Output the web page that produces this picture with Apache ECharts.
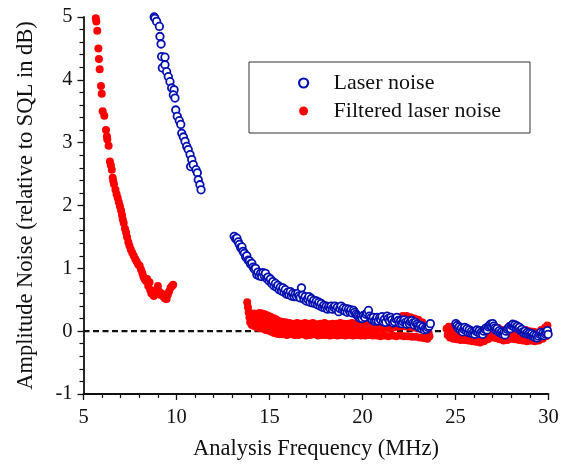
<!DOCTYPE html>
<html>
<head>
<meta charset="utf-8">
<script src="https://cdn.jsdelivr.net/npm/echarts@6/dist/echarts.min.js"></script>
<style>html,body{margin:0;padding:0;background:#fff}#c{width:566px;height:466px}</style>
</head>
<body>
<div id="c"></div>
<script>
// ---- data (frequency MHz, noise dB) ----
var seriesNames = ['Laser noise', 'Filtered laser noise'];
var xTicks = [5, 10, 15, 20, 25, 30];
var yTicks = [-1, 0, 1, 2, 3, 4, 5];

var laserA = [[8.80,5.00],[8.84,4.98],[8.93,4.93],[9.08,4.85],[9.11,4.69],[9.17,4.57],[9.20,4.37],[9.38,4.36],[9.24,4.19],[9.38,4.24],[9.47,4.13],[9.56,4.05],[9.65,3.97],[9.74,3.87],[9.87,3.84],[9.83,3.76],[9.92,3.71],[9.96,3.52],[10.04,3.42],[10.15,3.35],[10.23,3.29],[10.28,3.15],[10.37,3.09],[10.46,3.02],[10.55,2.94],[10.63,2.89],[10.73,2.81],[10.82,2.73],[10.76,2.62],[10.90,2.65],[11.05,2.57],[11.12,2.52],[11.17,2.41],[11.26,2.33],[11.32,2.25]];

var laserB = [[13.10,1.51],[13.18,1.47],[13.25,1.48],[13.32,1.42],[13.38,1.38],[13.45,1.33],[13.52,1.34],[13.58,1.27],[13.65,1.24],[13.72,1.18],[13.78,1.20],[13.85,1.13],[13.92,1.12],[13.98,1.07],[14.05,1.08],[14.12,1.02],[14.18,0.99],[14.25,1.00],[14.32,0.90],[14.38,0.94],[14.45,0.88],[14.52,0.92],[14.58,0.87],[14.65,0.93],[14.72,0.88],[14.78,0.92],[14.85,0.84],[14.92,0.86],[14.98,0.80],[15.05,0.83],[15.12,0.76],[15.18,0.79],[15.25,0.72],[15.32,0.76],[15.38,0.70],[15.45,0.73],[15.52,0.66],[15.58,0.70],[15.65,0.64],[15.72,0.69],[15.78,0.62],[15.85,0.66],[15.92,0.59],[15.98,0.62],[16.05,0.58],[16.12,0.63],[16.18,0.56],[16.25,0.60],[16.32,0.55],[16.38,0.59],[16.45,0.55],[16.52,0.60],[16.58,0.56],[16.65,0.53],[16.72,0.69],[16.78,0.57],[16.85,0.51],[16.92,0.55],[16.98,0.48],[17.05,0.51],[17.12,0.55],[17.18,0.46],[17.25,0.52],[17.32,0.45],[17.38,0.49],[17.45,0.44],[17.52,0.48],[17.58,0.42],[17.65,0.46],[17.72,0.40],[17.78,0.44],[17.85,0.38],[17.92,0.41],[17.98,0.37],[18.05,0.40],[18.12,0.35],[18.18,0.39],[18.25,0.36],[18.32,0.40],[18.38,0.35],[18.45,0.38],[18.52,0.40],[18.58,0.35],[18.65,0.38],[18.72,0.31],[18.78,0.36],[18.85,0.40],[18.92,0.34],[18.98,0.37],[19.05,0.32],[19.12,0.36],[19.18,0.30],[19.25,0.35],[19.32,0.31],[19.38,0.34],[19.45,0.29],[19.52,0.33],[19.58,0.30],[19.65,0.27],[19.72,0.25],[19.78,0.23],[19.85,0.21],[19.92,0.23],[19.98,0.20],[20.05,0.25],[20.12,0.22],[20.18,0.27],[20.25,0.29],[20.32,0.33],[20.38,0.24],[20.45,0.21],[20.52,0.18],[20.58,0.22],[20.65,0.16],[20.72,0.18],[20.78,0.22],[20.85,0.16],[20.92,0.21],[20.98,0.18],[21.05,0.23],[21.12,0.15],[21.18,0.19],[21.25,0.14],[21.32,0.24],[21.38,0.20],[21.45,0.16],[21.52,0.22],[21.58,0.18],[21.65,0.13],[21.72,0.15],[21.78,0.20],[21.85,0.22],[21.92,0.17],[21.98,0.13],[22.05,0.16],[22.12,0.12],[22.18,0.15],[22.25,0.18],[22.32,0.14],[22.38,0.11],[22.45,0.16],[22.52,0.12],[22.58,0.15],[22.65,0.17],[22.72,0.13],[22.78,0.10],[22.85,0.14],[22.92,0.11],[22.98,0.08],[23.05,0.06],[23.12,0.09],[23.18,0.04],[23.25,0.07],[23.32,0.02],[23.38,0.05],[23.45,0.03],[23.52,0.06],[23.58,0.08],[23.65,0.12]];

var laserC = [[25.02,0.12],[25.08,0.09],[25.14,0.05],[25.20,0.07],[25.26,0.02],[25.32,0.05],[25.38,-0.01],[25.44,0.03],[25.50,0.06],[25.56,0.01],[25.62,0.04],[25.68,-0.02],[25.74,0.02],[25.80,-0.03],[25.86,0.00],[25.92,-0.04],[25.98,-0.01],[26.04,-0.05],[26.10,0.00],[26.16,0.02],[26.22,-0.02],[26.28,0.01],[26.34,-0.04],[26.40,-0.01],[26.46,-0.05],[26.52,0.00],[26.58,0.03],[26.64,0.05],[26.70,0.02],[26.76,0.07],[26.82,0.09],[26.88,0.11],[26.94,0.08],[27.00,0.12],[27.06,0.08],[27.12,0.05],[27.18,0.02],[27.24,0.04],[27.30,-0.01],[27.36,0.01],[27.42,-0.03],[27.48,-0.01],[27.54,-0.05],[27.60,-0.02],[27.66,-0.06],[27.72,0.00],[27.78,0.03],[27.84,0.05],[27.90,0.07],[27.96,0.04],[28.02,0.09],[28.08,0.11],[28.14,0.07],[28.20,0.10],[28.26,0.06],[28.32,0.08],[28.38,0.04],[28.44,0.06],[28.50,0.01],[28.56,0.03],[28.62,-0.01],[28.68,-0.03],[28.74,0.00],[28.80,-0.04],[28.86,-0.02],[28.92,-0.05],[28.98,-0.03],[29.04,-0.06],[29.10,-0.04],[29.16,-0.08],[29.22,-0.06],[29.28,-0.10],[29.34,-0.07],[29.40,-0.11],[29.46,-0.08],[29.52,-0.05],[29.58,-0.02],[29.64,-0.06],[29.70,-0.03],[29.76,-0.07],[29.82,-0.04],[29.88,-0.02],[29.94,0.01],[29.98,-0.05]];

var filteredA = [[5.66,4.98],[5.69,4.93],[5.74,4.78],[5.80,4.50],[5.83,4.33],[5.87,4.17],[5.94,3.90],[5.98,3.78],[6.03,3.50],[6.12,3.43],[6.21,3.20],[6.26,3.10],[6.28,3.05],[6.35,2.95],[6.42,2.70],[6.47,2.64],[6.52,2.57],[6.57,2.44],[6.60,2.39],[6.64,2.34],[6.72,2.25],[6.78,2.18],[6.84,2.12],[6.90,2.05],[6.96,1.99],[7.02,1.92],[7.07,1.85],[7.11,1.78],[7.16,1.72],[7.23,1.63],[7.29,1.57],[7.34,1.50],[7.41,1.42],[7.47,1.36],[7.54,1.30],[7.62,1.25],[7.70,1.20],[7.78,1.15],[7.86,1.11],[7.94,1.06],[8.02,1.04],[8.09,0.98],[8.16,0.93],[8.22,0.87],[8.28,0.83],[8.36,0.80],[8.42,0.83],[8.48,0.72],[8.55,0.78],[8.58,0.66],[8.65,0.60],[8.72,0.64],[8.78,0.56],[8.84,0.59],[8.92,0.66],[9.00,0.72],[9.06,0.63],[9.12,0.58],[9.20,0.60],[9.29,0.55],[9.38,0.52],[9.47,0.51],[9.53,0.58],[9.60,0.63],[9.68,0.69],[9.76,0.72],[9.82,0.74]];

var filteredB = [[13.80,0.46],[13.84,0.38],[13.88,0.30],[13.92,0.22],[13.96,0.14],[14.00,0.26],[14.05,0.10],[14.10,0.20],[14.15,0.28],[14.20,0.08],[14.25,0.18],[14.30,0.27],[14.35,0.06],[14.40,0.17],[14.45,0.29],[14.50,0.05],[14.55,0.16],[14.60,0.28],[14.65,0.04],[14.70,0.14],[14.75,0.27],[14.80,0.02],[14.85,0.13],[14.90,0.25],[14.95,0.01],[15.00,0.12],[15.05,0.23],[15.10,-0.01],[15.15,0.10],[15.20,0.21],[15.25,-0.03],[15.30,0.08],[15.35,0.19],[15.40,-0.04],[15.45,0.06],[15.50,0.16],[15.55,-0.05],[15.60,0.05],[15.65,0.15],[15.72,-0.05],[15.79,0.04],[15.86,0.14],[15.93,-0.06],[16.00,0.03],[16.07,0.13],[16.14,-0.05],[16.21,0.04],[16.28,0.12],[16.35,-0.06],[16.42,0.03],[16.49,0.13],[16.56,-0.06],[16.63,0.04],[16.70,0.12],[16.77,-0.05],[16.84,0.03],[16.91,0.13],[16.98,-0.07],[17.05,0.02],[17.12,0.12],[17.19,-0.06],[17.26,0.04],[17.33,0.13],[17.40,-0.05],[17.47,0.03],[17.54,0.11],[17.61,-0.07],[17.68,0.02],[17.75,0.12],[17.82,-0.06],[17.89,0.03],[17.96,0.13],[18.03,-0.06],[18.10,0.02],[18.17,0.11],[18.24,-0.07],[18.31,0.03],[18.38,0.12],[18.45,-0.06],[18.52,0.02],[18.59,0.12],[18.66,-0.07],[18.73,0.03],[18.80,0.13],[18.87,-0.06],[18.94,0.03],[19.01,0.12],[19.08,-0.07],[19.15,0.02],[19.22,0.12],[19.29,-0.06],[19.36,0.03],[19.43,0.13],[19.50,-0.07],[19.57,0.02],[19.64,0.12],[19.71,-0.06],[19.78,0.03],[19.85,0.12],[19.92,-0.07],[19.99,0.03],[20.06,0.13],[20.13,-0.07],[20.20,0.03],[20.27,0.14],[20.34,-0.06],[20.41,0.04],[20.48,0.14],[20.55,-0.07],[20.62,0.03],[20.69,0.15],[20.76,-0.07],[20.83,0.04],[20.90,0.15],[20.97,-0.08],[21.04,0.04],[21.11,0.16],[21.18,-0.07],[21.25,0.05],[21.32,0.17],[21.39,-0.08],[21.46,0.05],[21.53,0.18],[21.60,-0.07],[21.67,0.06],[21.74,0.20],[21.81,-0.08],[21.88,0.07],[21.95,0.22],[22.02,-0.07],[22.09,0.08],[22.16,0.24],[22.23,-0.08],[22.30,0.08],[22.37,0.24],[22.44,-0.08],[22.51,0.07],[22.58,0.22],[22.65,-0.09],[22.72,0.06],[22.79,0.20],[22.86,-0.09],[22.93,0.05],[23.00,0.18],[23.07,-0.10],[23.14,0.04],[23.21,0.14],[23.28,-0.11],[23.35,0.02],[23.42,0.09],[23.49,-0.12],[23.55,-0.02],[23.60,-0.08]];

var filteredC = [[24.52,0.04],[24.58,-0.06],[24.64,0.07],[24.70,-0.10],[24.76,0.00],[24.82,0.06],[24.88,-0.12],[24.94,-0.02],[25.00,0.05],[25.06,-0.13],[25.13,-0.03],[25.20,0.04],[25.27,-0.14],[25.34,-0.04],[25.41,0.03],[25.48,-0.14],[25.55,-0.05],[25.62,0.02],[25.69,-0.15],[25.76,-0.05],[25.83,0.01],[25.90,-0.16],[25.97,-0.06],[26.04,0.00],[26.11,-0.17],[26.18,-0.07],[26.25,0.00],[26.32,-0.18],[26.39,-0.08],[26.46,0.01],[26.53,-0.16],[26.60,-0.06],[26.67,0.04],[26.74,-0.13],[26.81,-0.03],[26.88,0.07],[26.95,-0.10],[27.02,-0.01],[27.09,0.08],[27.16,-0.11],[27.23,-0.03],[27.30,0.05],[27.37,-0.13],[27.44,-0.05],[27.51,0.02],[27.58,-0.15],[27.65,-0.07],[27.72,0.01],[27.79,-0.14],[27.86,-0.05],[27.93,0.04],[28.00,-0.12],[28.07,-0.03],[28.14,0.06],[28.21,-0.13],[28.28,-0.04],[28.35,0.05],[28.42,-0.14],[28.49,-0.05],[28.56,0.03],[28.63,-0.15],[28.70,-0.06],[28.77,0.02],[28.84,-0.16],[28.91,-0.07],[28.98,0.00],[29.05,-0.15],[29.12,-0.07],[29.19,-0.01],[29.26,-0.16],[29.33,-0.08],[29.40,-0.02],[29.47,-0.15],[29.54,-0.06],[29.61,0.02],[29.68,-0.12],[29.75,-0.04],[29.82,0.06],[29.88,-0.08],[29.94,0.09],[29.98,-0.02]];

var zeroLine = [[5, 0], [30, 0]];

// ---- chart ----
var BLUE = '#0610b0', RED = '#ff0000';
var FONT = '"Liberation Serif", "DejaVu Serif", serif';
var chart = echarts.init(document.getElementById('c'), null, {renderer: 'canvas'});
chart.setOption({
  animation: false,
  backgroundColor: '#fff',
  grid: {left: 83.5, right: 17.5, top: 17, bottom: 71, containLabel: false},
  legend: {
    data: [
      {name: seriesNames[0], icon: 'circle', itemStyle: {color: '#fff', borderColor: BLUE, borderWidth: 2.2}},
      {name: seriesNames[1], icon: 'circle', itemStyle: {color: RED, borderWidth: 0}}
    ],
    orient: 'vertical',
    left: 249, top: 62,
    padding: [10, 29, 11, 49],
    itemWidth: 50, itemHeight: 9, itemGap: 6,
    borderColor: '#333', borderWidth: 1,
    backgroundColor: '#fff',
    selectedMode: false,
    textStyle: {fontFamily: FONT, fontSize: 22, color: '#111', lineHeight: 22}
  },
  xAxis: {
    type: 'value', min: xTicks[0], max: xTicks[xTicks.length - 1], interval: 5,
    name: 'Analysis Frequency (MHz)', nameLocation: 'middle', nameGap: 44,
    nameTextStyle: {fontFamily: FONT, fontSize: 22.5, color: '#111'},
    axisLine: {show: true, onZero: false, lineStyle: {color: '#111', width: 1.8}},
    axisTick: {show: true, inside: false, length: 6, lineStyle: {color: '#111', width: 1.3}},
    minorTick: {show: true, splitNumber: 5, length: 4, lineStyle: {color: '#111', width: 1.2}},
    splitLine: {show: false},
    axisLabel: {fontFamily: FONT, fontSize: 20.5, color: '#111', margin: 13}
  },
  yAxis: {
    type: 'value', min: yTicks[0], max: yTicks[yTicks.length - 1], interval: 1,
    name: 'Amplitude Noise (relative to SQL in dB)', nameLocation: 'middle', nameGap: 46,
    nameTextStyle: {fontFamily: FONT, fontSize: 22.5, color: '#111'},
    axisLine: {show: true, onZero: false, lineStyle: {color: '#111', width: 1.8}},
    axisTick: {show: true, inside: false, length: 6, lineStyle: {color: '#111', width: 1.3}},
    minorTick: {show: true, splitNumber: 5, length: 4, lineStyle: {color: '#111', width: 1.2}},
    splitLine: {show: false},
    axisLabel: {fontFamily: FONT, fontSize: 20.5, color: '#111', margin: 11}
  },
  series: [
    {
      name: 'zero', type: 'line', data: zeroLine, symbol: 'none', silent: true, z: 1,
      lineStyle: {color: '#111', width: 2.2, type: [6, 3.5]}
    },
    {
      name: seriesNames[1], type: 'scatter', z: 2,
      data: filteredA.concat(filteredB, filteredC),
      symbol: 'circle', symbolSize: 8,
      itemStyle: {color: RED, opacity: 1}
    },
    {
      name: seriesNames[0], type: 'scatter', z: 3,
      data: laserA.concat(laserB, laserC),
      symbol: 'circle', symbolSize: 7.5,
      itemStyle: {color: '#fff', borderColor: BLUE, borderWidth: 1.8, opacity: 1}
    }
  ]
});
</script>
</body>
</html>
